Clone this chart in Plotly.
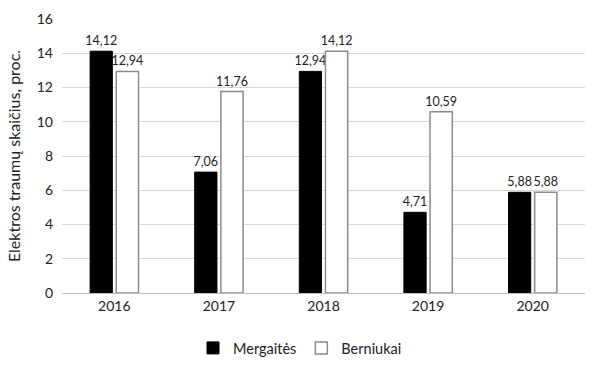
import plotly.graph_objects as go

years = ["2016", "2017", "2018", "2019", "2020"]
mergaites = [14.12, 7.06, 12.94, 4.71, 5.88]
berniukai = [12.94, 11.76, 14.12, 10.59, 5.88]

font_family = "Lato, Open Sans, sans-serif"

fig = go.Figure()
fig.add_trace(go.Bar(
    x=years, y=mergaites, name="Mergaitės",
    marker=dict(color="#000000", line=dict(color="#000000", width=1)),
    texttemplate="%{y:.2f}", textposition="outside", constraintext="none",
    textfont=dict(size=12.5, color="#222222"), cliponaxis=False,
))
fig.add_trace(go.Bar(
    x=years, y=berniukai, name="Berniukai",
    marker=dict(color="#ffffff", line=dict(color="#8c8c8c", width=1.5)),
    texttemplate="%{y:.2f}", textposition="outside", constraintext="none",
    textfont=dict(size=12.5, color="#222222"), cliponaxis=False,
))

fig.update_layout(
    width=600, height=372,
    margin=dict(l=62, r=15, t=19, b=79, autoexpand=False),
    paper_bgcolor="white", plot_bgcolor="white",
    separators=",.",
    barmode="group", bargap=0.5, bargroupgap=0.15,
    font=dict(family=font_family, size=14, color="#222222"),
    showlegend=True,
    legend=dict(orientation="h", xref="container", x=0.5, xanchor="center",
                yref="container", y=1 - 348 / 372, yanchor="middle",
                font=dict(size=14.5), itemwidth=30, tracegroupgap=0),
    xaxis=dict(showline=True, linecolor="#bfbfbf", linewidth=1, ticks="",
               tickfont=dict(size=14), automargin=False),
    yaxis=dict(range=[0, 16], dtick=2, showgrid=True, gridcolor="#d9d9d9",
               gridwidth=1, zeroline=False, ticks="", tickfont=dict(size=14),
               automargin=False, ticklabelstandoff=8,
               title=dict(text="Elektros traumų skaičius, proc.", font=dict(size=16), standoff=12)),
)
fig.write_html("out.html", config={"displayModeBar": False},
               post_script="document.body.style.margin='0';")
